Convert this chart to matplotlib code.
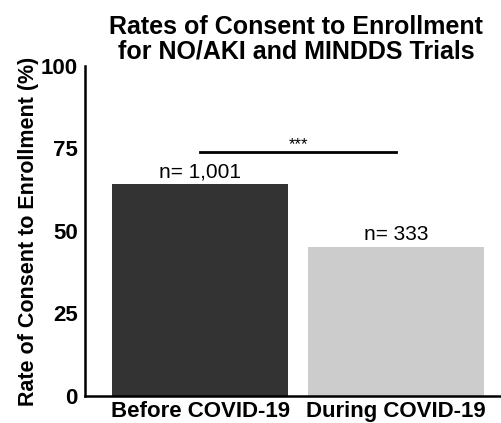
import numpy as np
import matplotlib.pyplot as plt

plt.rcParams['font.family'] = ['Liberation Sans', 'DejaVu Sans']

# Consent rates per period
periods = ['Before COVID-19', 'During COVID-19']
rates = [64.2, 45.2]
n_labels = ['n= 1,001', 'n= 333']
colors = ['#333333', '#cccccc']
sig_height = 74
sig_text = '***'

fig = plt.figure(figsize=(5.02, 4.23), dpi=100)
ax = fig.add_axes([0.169, 0.064, 0.827, 0.78])

x = np.arange(len(periods))
ax.bar(x, rates, width=0.9, color=colors)

for xi, r, lab in zip(x, rates, n_labels):
    ax.text(xi, r + 0.8, lab, ha='center', va='bottom', fontsize=15)

# significance bracket between the two bars
ax.plot([x[0], x[1]], [sig_height, sig_height], color='black', lw=2)
ax.text((x[0] + x[1]) / 2, sig_height, sig_text, ha='center', va='bottom', fontsize=12)

ax.set_xlim(-0.59, 1.53)
ax.set_ylim(0, 100)
ax.set_yticks([0, 25, 50, 75, 100])
ax.set_xticks(x)
ax.set_xticklabels(periods, fontsize=16, fontweight='bold')
ax.tick_params(axis='y', labelsize=16, length=0, pad=5)
ax.tick_params(axis='x', length=0, pad=4)
for lab in ax.get_yticklabels():
    lab.set_fontweight('bold')

ax.spines['top'].set_visible(False)
ax.spines['right'].set_visible(False)
ax.spines['left'].set_linewidth(1.8)
ax.spines['bottom'].set_linewidth(1.8)

ax.set_ylabel('Rate of Consent to Enrollment (%)', fontsize=15.5, fontweight='bold', labelpad=1)
fig.suptitle('Rates of Consent to Enrollment\nfor NO/AKI and MINDDS Trials',
             x=0.59, y=0.965, fontsize=18, fontweight='bold', linespacing=1.02)

plt.savefig('out.png', dpi=100)
